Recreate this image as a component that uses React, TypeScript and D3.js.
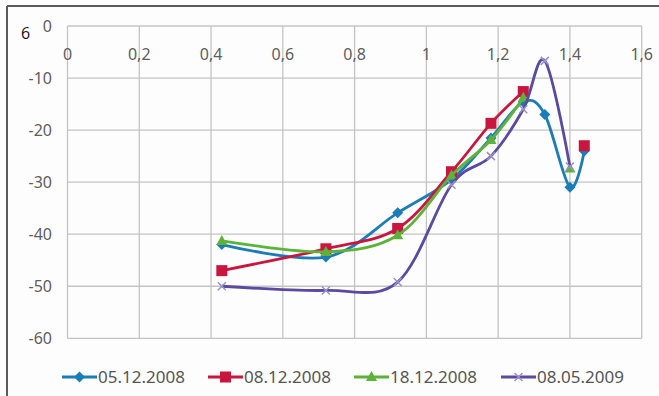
import React, { useRef, useEffect } from 'react';
import * as d3 from 'd3';

// shared x positions, each series has gaps (null) where Excel had no value
const xValues = [0.43, 0.72, 0.92, 1.07, 1.18, 1.27, 1.33, 1.4, 1.44];
const blueValues = [-42, -44.4, -35.9, -29.5, -21.5, -14.6, -17, -31, -24];
const redValues = [-47, -42.8, -38.9, -28, -18.7, -12.6, null, null, -23];
const greenValues = [-41.3, -43.4, -40.2, -28.7, -21.9, -13.8, null, -27.4, null];
const purpleValues = [-50, -50.8, -49.2, -30.5, -25, -16, -6.7, -27, null];

const seriesNames = ['05.12.2008', '08.12.2008', '18.12.2008', '08.05.2009'];
const xTicks = [0, 0.2, 0.4, 0.6, 0.8, 1, 1.2, 1.4, 1.6];
const yTicks = [0, -10, -20, -30, -40, -50, -60];

const W = 659;
const H = 396;

const App = () => {
    const svgRef = useRef<SVGSVGElement>(null);

    useEffect(() => {
        const svg = d3.select(svgRef.current);
        svg.selectAll('*').remove();

        const x = d3.scaleLinear().domain([0, 1.6]).range([67.5, 641.7]);
        const y = d3.scaleLinear().domain([-60, 0]).range([338.3, 26]);

        svg.append('rect').attr('width', W).attr('height', H).attr('fill', '#fdfdfd');

        // frame of the figure (only top and left are visible)
        svg.append('line').attr('x1', 7).attr('x2', W).attr('y1', 6).attr('y2', 6)
            .attr('stroke', '#5a5a5a').attr('stroke-width', 2);
        svg.append('line').attr('x1', 7).attr('x2', 7).attr('y1', 6).attr('y2', H)
            .attr('stroke', '#5a5a5a').attr('stroke-width', 2);

        svg.append('text').attr('x', 21).attr('y', 39).text('6')
            .attr('font-family', 'Open Sans, sans-serif').attr('font-size', 16).attr('fill', '#111');

        // grid
        const grid = svg.append('g').attr('stroke', '#c4c4c4').attr('stroke-width', 1.3);
        xTicks.forEach((t) => {
            grid.append('line').attr('x1', x(t)).attr('x2', x(t)).attr('y1', y(0)).attr('y2', y(-60));
        });
        yTicks.forEach((t) => {
            grid.append('line').attr('x1', x(0)).attr('x2', x(1.6)).attr('y1', y(t)).attr('y2', y(t));
        });

        const labelFont = 'Noto Sans, sans-serif';
        const fmt = (v: number) => String(v).replace('.', ',');

        svg.append('g').selectAll('text').data(xTicks).join('text')
            .attr('x', (d) => x(d)).attr('y', 60)
            .attr('text-anchor', 'middle')
            .attr('font-family', labelFont).attr('font-size', 16).attr('fill', '#5e5e5e')
            .text((d) => fmt(d));

        svg.append('g').selectAll('text').data(yTicks).join('text')
            .attr('x', 52).attr('y', (d) => y(d) + 5.5)
            .attr('text-anchor', 'end')
            .attr('font-family', labelFont).attr('font-size', 16).attr('fill', '#5e5e5e')
            .text((d) => String(d));

        const colors = ['#1b7db8', '#c8163f', '#5db33a', '#5a4aa0'];
        const markerColors = ['#1b7db8', '#c8163f', '#5db33a', '#9a90cc'];
        const allValues = [blueValues, redValues, greenValues, purpleValues];

        const drawMarker = (g: any, i: number, cx: number, cy: number) => {
            if (i === 0) {
                g.append('path').attr('d', `M${cx},${cy - 5.5}L${cx + 5.5},${cy}L${cx},${cy + 5.5}L${cx - 5.5},${cy}Z`)
                    .attr('fill', markerColors[i]);
            } else if (i === 1) {
                g.append('rect').attr('x', cx - 5.5).attr('y', cy - 5.5).attr('width', 11).attr('height', 11)
                    .attr('fill', markerColors[i]);
            } else if (i === 2) {
                g.append('path').attr('d', `M${cx},${cy - 6}L${cx + 5.5},${cy + 4}L${cx - 5.5},${cy + 4}Z`)
                    .attr('fill', markerColors[i]);
            } else {
                g.append('path').attr('d', `M${cx - 4},${cy - 4}L${cx + 4},${cy + 4}M${cx - 4},${cy + 4}L${cx + 4},${cy - 4}`)
                    .attr('stroke', markerColors[i]).attr('stroke-width', 1.5).attr('fill', 'none');
            }
        };

        allValues.forEach((vals, i) => {
            const pts = xValues.map((xv, k) => ({ x: xv, y: vals[k] }));
            const line = d3.line<any>()
                .defined((d) => d.y !== null)
                .x((d) => x(d.x))
                .y((d) => y(d.y))
                .curve(d3.curveCardinal.tension(0));
            svg.append('path').datum(pts).attr('d', line)
                .attr('fill', 'none').attr('stroke', colors[i]).attr('stroke-width', 2.8)
                .attr('stroke-linejoin', 'round');
            const mg = svg.append('g');
            pts.filter((d) => d.y !== null).forEach((d) => drawMarker(mg, i, x(d.x), y(d.y as number)));
        });

        // legend
        const legendX = [62, 208, 354, 501];
        const legendY = 377;
        seriesNames.forEach((name, i) => {
            const lg = svg.append('g');
            const x0 = legendX[i];
            lg.append('line').attr('x1', x0).attr('x2', x0 + 35).attr('y1', legendY).attr('y2', legendY)
                .attr('stroke', colors[i]).attr('stroke-width', 2.8);
            drawMarker(lg, i, x0 + 17.5, legendY);
            lg.append('text').attr('x', x0 + 36).attr('y', legendY + 6)
                .attr('font-family', labelFont).attr('font-size', 17).attr('fill', '#555')
                .text(name);
        });
    }, []);

    return (
        <div style={{ position: 'absolute', left: 0, top: 0 }}>
            <svg ref={svgRef} width={W} height={H} style={{ display: 'block' }} />
        </div>
    );
};

export default App;
